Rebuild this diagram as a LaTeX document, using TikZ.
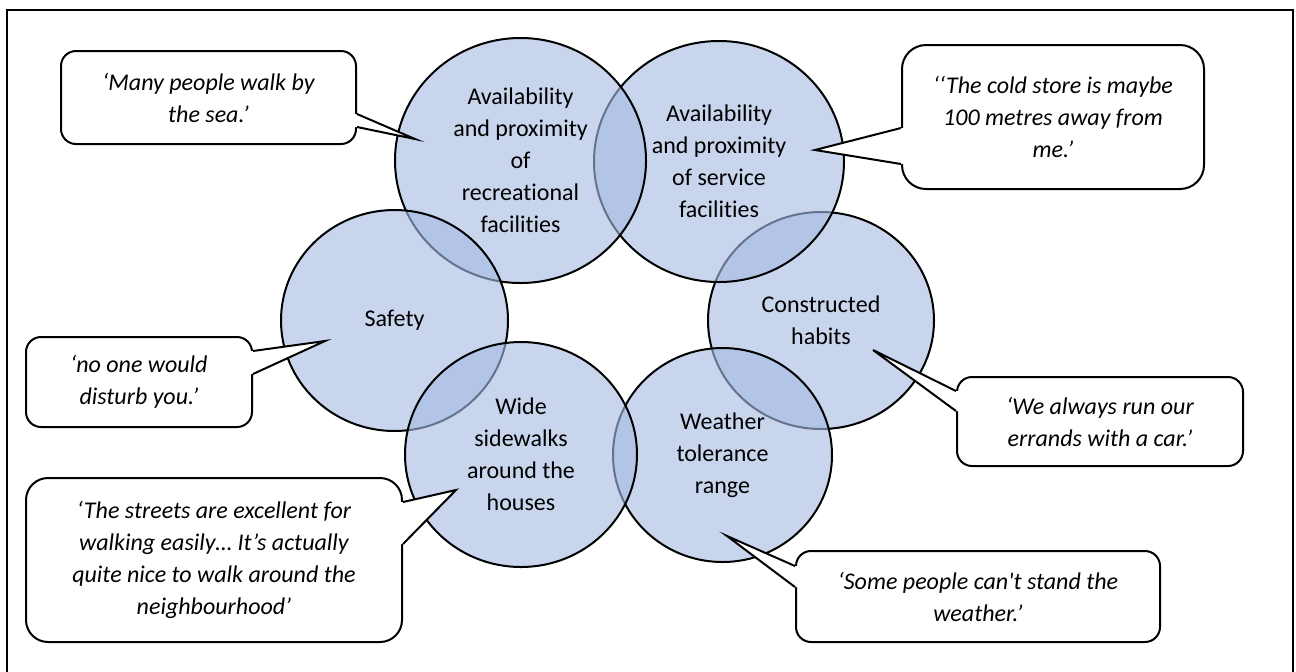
\documentclass[tikz,border=0pt]{standalone}
\usepackage{fontspec}
\setmainfont{Carlito}[Ligatures=NoCommon]
\newfontfamily\cfont{Carlito}[Ligatures=NoCommon]
\usetikzlibrary{shapes.geometric,calc}
\definecolor{circfill}{RGB}{166,187,226}
\tikzset{
  circ/.style={ellipse, draw=black, line width=1pt, fill=circfill, fill opacity=0.62,
    text opacity=1, inner sep=0pt, align=center, font=\cfont\fontsize{12}{16}\selectfont},
  callout/.style={rectangle, draw=black, line width=1pt, fill=white, align=center,
    rounded corners=7.5pt, inner sep=0pt, font=\cfont\fontsize{12}{16}\selectfont\itshape},
  tailline/.style={draw=black, line width=1pt, line join=miter},
  frame/.style={draw=black, line width=1.4pt},
}
\begin{document}
\begin{tikzpicture}[x=0.5pt,y=-0.5pt]
\useasboundingbox (0,0) rectangle (1296,671);
\path[frame] (7,10) rectangle (1293,700);

% circles (order matters for overlaps)
\node[circ, minimum width=113pt, minimum height=108.5pt] (con) at (821,320.5) {Constructed\\habits};
\node[circ, minimum width=125pt, minimum height=120.5pt] (ser) at (719,161.5) {Availability\\and proximity\\of service\\facilities};
\node[circ, minimum width=125.5pt, minimum height=122.5pt] (rec) at (520.5,160.5) {Availability\\and proximity\\of\\recreational\\facilities};
\node[circ, minimum width=113.5pt, minimum height=110.5pt] (saf) at (394.5,320.5) {Safety};
\node[circ, minimum width=109.5pt, minimum height=107pt] (wea) at (722.5,455) {Weather\\tolerance\\range};
\node[circ, minimum width=116pt, minimum height=112.5pt] (wid) at (521,454.5) {Wide\\sidewalks\\around the\\houses};

% callout boxes
\node[callout, minimum width=147.5pt, minimum height=46.5pt] (c1) at (208.5,97.5) {‘Many people walk by\\the sea.’};
\node[callout, minimum width=151pt, minimum height=72pt, rounded corners=12pt] (c2) at (1053,117) {‘‘The cold store is maybe\\100 metres away from\\me.’};
\node[callout, minimum width=113pt, minimum height=45pt] (c3) at (139,382) {‘no one would\\disturb you.’};
\node[callout, minimum width=188pt, minimum height=82pt, rounded corners=11pt] (c4) at (214,560) {‘The streets are excellent for\\walking easily… It’s actually\\quite nice to walk around the\\neighbourhood’};
\node[callout, minimum width=143pt, minimum height=44.5pt] (c5) at (1100,421.5) {‘We always run our\\errands with a car.’};
\node[callout, minimum width=182pt, minimum height=45.5pt] (c6) at (978,596.5) {‘Some people can't stand the\\weather.’};

% tail tips
\coordinate (t1) at (415,139);
\coordinate (t2) at (815,150);
\coordinate (t3) at (325,341);
\coordinate (t4) at (456,490);
\coordinate (t5) at (873,350);
\coordinate (t6) at (727,536);

% tail base points
\coordinate (a1) at ($(c1.north east)+(0,64)$);  \coordinate (b1) at ($(c1.north east)+(0,77)$);
\coordinate (a2) at ($(c2.north west)+(0,84)$);  \coordinate (b2) at ($(c2.north west)+(0,120)$);
\coordinate (a3) at ($(c3.north east)+(0,15)$);  \coordinate (b3) at ($(c3.north east)+(0,38)$);
\coordinate (a4) at ($(c4.north east)+(0,25)$);  \coordinate (b4) at ($(c4.north east)+(0,67)$);
\coordinate (a5) at ($(c5.north west)+(0,15)$);  \coordinate (b5) at ($(c5.north west)+(0,35)$);
\coordinate (a6) at ($(c6.north west)+(0,16)$);  \coordinate (b6) at ($(c6.north west)+(0,37)$);

% tails: white fill covering the box edge, then the two sides
\foreach \i/\s in {1/-4,3/-4,4/-4,2/4,5/4,6/4}{
  \fill[white] (a\i) -- (t\i) -- (b\i) -- ($(b\i)+(\s,0)$) -- ($(a\i)+(\s,0)$) -- cycle;
  \draw[tailline] (a\i) -- (t\i) -- (b\i);
}
\end{tikzpicture}
\end{document}
